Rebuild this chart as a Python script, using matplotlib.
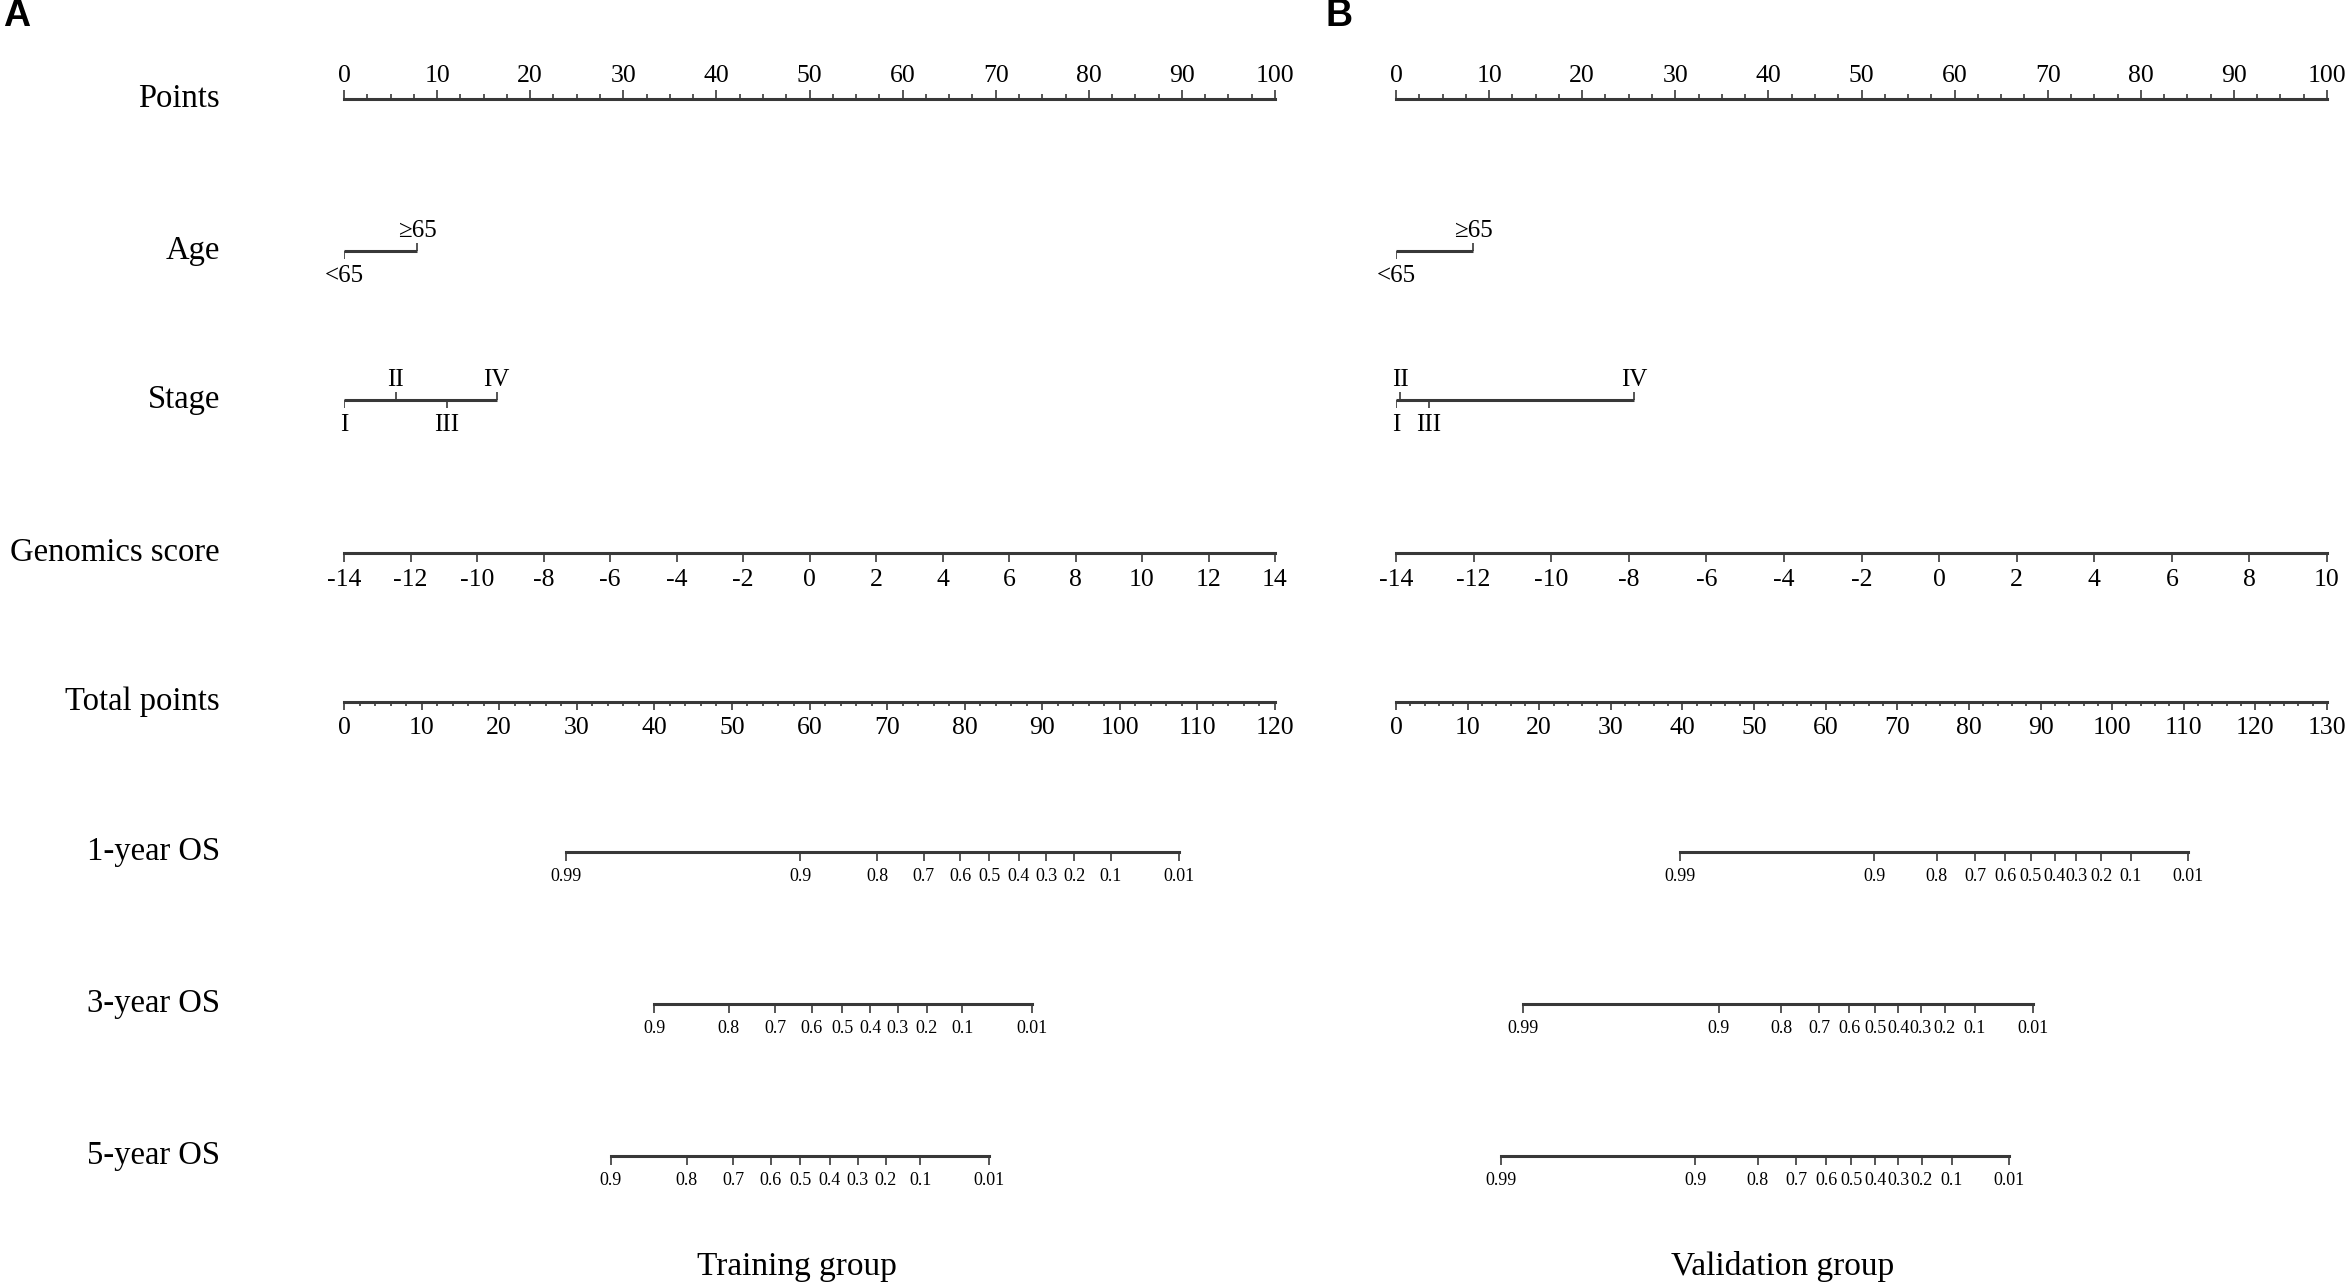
import matplotlib
matplotlib.use("Agg")
import matplotlib.pyplot as plt
from matplotlib.ticker import MultipleLocator

plt.rcParams['font.family'] = ['Liberation Serif', 'DejaVu Serif']

W, H = 2349, 1282
LINE = '#383838'

row_names = ['Points', 'Age', 'Stage', 'Genomics score', 'Total points',
             '1-year OS', '3-year OS', '5-year OS']
row_y = [99, 251, 400, 553, 702, 852, 1004, 1156]

surv_long = ['0.99', '0.9', '0.8', '0.7', '0.6', '0.5', '0.4', '0.3', '0.2', '0.1', '0.01']
surv_short = ['0.9', '0.8', '0.7', '0.6', '0.5', '0.4', '0.3', '0.2', '0.1', '0.01']

age_labels = ['<65', '\u226565']
age_above = [False, True]
stage_labels = ['I', 'II', 'III', 'IV']
stage_above = [False, True, False, True]

# panel A (training)
a_age_points = [0, 7.84]
a_stage_points = [0, 5.55, 11.03, 16.4]
a_genomics_lim = (-14, 14)
a_genomics_ticks = list(range(-14, 15, 2))
a_total_lim = (0, 120)
a_total_ticks = list(range(0, 121, 10))
a_os1 = [28.6, 58.8, 68.7, 74.7, 79.4, 83.2, 87.0, 90.5, 94.1, 98.8, 107.6]
a_os3 = [40.0, 49.6, 55.6, 60.3, 64.2, 67.8, 71.4, 75.1, 79.7, 88.7]
a_os5 = [34.4, 44.2, 50.2, 55.0, 58.8, 62.6, 66.2, 69.8, 74.3, 83.2]

# panel B (validation)
b_age_points = [0, 8.27]
b_stage_points = [0, 0.43, 3.5, 25.6]
b_genomics_lim = (-14, 10)
b_genomics_ticks = list(range(-14, 11, 2))
b_total_lim = (0, 130)
b_total_ticks = list(range(0, 131, 10))
b_os1 = [39.7, 66.8, 75.5, 80.9, 85.1, 88.6, 92.0, 95.0, 98.5, 102.6, 110.6]
b_os3 = [17.8, 45.1, 53.8, 59.1, 63.3, 66.9, 70.1, 73.3, 76.6, 80.8, 88.9]
b_os5 = [14.7, 41.8, 50.5, 55.9, 60.1, 63.6, 66.9, 70.1, 73.4, 77.6, 85.6]


def row_axes(fig, left, right, y_px, xlim):
    h = 60
    ax = fig.add_axes([left / W, 1 - (y_px + h / 2) / H, (right - left) / W, h / H])
    ax.set_xlim(xlim)
    ax.set_ylim(-1, 1)
    for s in ax.spines.values():
        s.set_visible(False)
    ax.set_xticks([])
    ax.set_yticks([])
    ax.patch.set_alpha(0)
    return ax


def scale_row(ax, side, ticks, labels=None, minor=None, bounds=None,
              fs=18.5, ticklen=6.5, pad=3.5):
    sp = ax.spines[side]
    sp.set_visible(True)
    sp.set_position(('data', 0))
    sp.set_linewidth(2.2)
    sp.set_color(LINE)
    if bounds is not None:
        sp.set_bounds(*bounds)
    ax.xaxis.set_ticks_position(side)
    if labels is None:
        labels = [str(t) for t in ticks]
    ax.set_xticks(ticks, labels=labels)
    if minor:
        ax.xaxis.set_minor_locator(MultipleLocator(minor))
    ax.tick_params(axis='x', which='major', direction='out', length=ticklen,
                   width=1.2, color=LINE, labelsize=fs, pad=pad)
    ax.tick_params(axis='x', which='minor', direction='out', length=ticklen / 2,
                   width=1.2, color=LINE)


def point_row(ax, pts, labels, above, fs=18):
    tick = 0.27
    ax.hlines(0, min(pts), max(pts), color=LINE, lw=2.2)
    for x, lab, up in zip(pts, labels, above):
        s = 1 if up else -1
        ax.vlines(x, 0, s * tick, color=LINE, lw=1.2)
        ax.annotate(lab, (x, s * tick), xytext=(0, 1 if up else -4),
                    textcoords='offset points', ha='center',
                    va='bottom' if up else 'top', fontsize=fs,
                    annotation_clip=False)


def panel(fig, left, right, age_pts, stage_pts, gen_lim, gen_ticks,
          tot_lim, tot_ticks, os1, os3, os5, os1_lab, os3_lab, os5_lab):
    ax = row_axes(fig, left, right, row_y[0], (0, 100))
    scale_row(ax, 'top', list(range(0, 101, 10)), minor=2.5, pad=2)

    ax = row_axes(fig, left, right, row_y[1], (0, 100))
    point_row(ax, age_pts, age_labels, age_above)

    ax = row_axes(fig, left, right, row_y[2], (0, 100))
    point_row(ax, stage_pts, stage_labels, stage_above)

    ax = row_axes(fig, left, right, row_y[3], gen_lim)
    scale_row(ax, 'bottom', gen_ticks, pad=5)

    ax = row_axes(fig, left, right, row_y[4], tot_lim)
    scale_row(ax, 'bottom', tot_ticks, minor=2, ticklen=6, pad=4.5)

    for y, vals, labs in zip(row_y[5:], [os1, os3, os5], [os1_lab, os3_lab, os5_lab]):
        ax = row_axes(fig, left, right, y, tot_lim)
        scale_row(ax, 'bottom', vals, labels=labs, bounds=(min(vals), max(vals)),
                  fs=13, ticklen=6.5, pad=5)


fig = plt.figure(figsize=(W / 100, H / 100), dpi=100)

panel(fig, 344, 1275, a_age_points, a_stage_points, a_genomics_lim, a_genomics_ticks,
      a_total_lim, a_total_ticks, a_os1, a_os3, a_os5, surv_long, surv_short, surv_short)
panel(fig, 1396, 2327, b_age_points, b_stage_points, b_genomics_lim, b_genomics_ticks,
      b_total_lim, b_total_ticks, b_os1, b_os3, b_os5, surv_long, surv_long, surv_long)

for name, y in zip(row_names, row_y):
    fig.text(220 / W, 1 - (y - 4) / H, name, ha='right', va='center_baseline', fontsize=23.5)

fig.text(797 / W, 1 - 1263 / H, 'Training group', ha='center', va='center_baseline', fontsize=24)
fig.text(1783 / W, 1 - 1263 / H, 'Validation group', ha='center', va='center_baseline', fontsize=24)

fig.text(3 / W, 1 + 2 / H, 'A', ha='left', va='top', fontsize=27, fontweight='bold',
         family=['Liberation Sans', 'DejaVu Sans'])
fig.text(1326 / W, 1 + 2 / H, 'B', ha='left', va='top', fontsize=27, fontweight='bold',
         family=['Liberation Sans', 'DejaVu Sans'])

fig.savefig('out.png', dpi=100, facecolor='white')
